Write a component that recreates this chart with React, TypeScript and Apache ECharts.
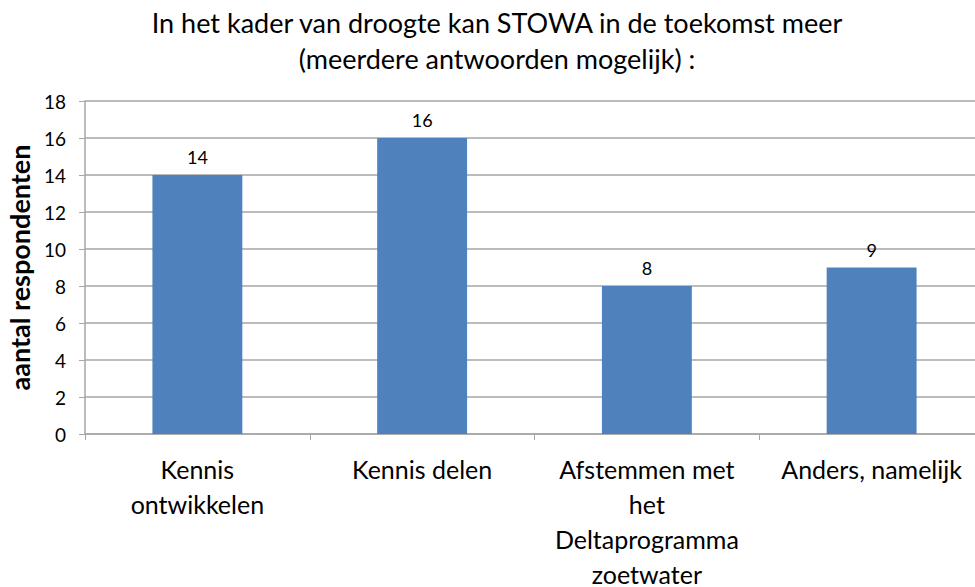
import React, { useEffect, useRef } from "react";
import * as echarts from "echarts";

const categories = [
  "Kennis\nontwikkelen",
  "Kennis delen",
  "Afstemmen met\nhet\nDeltaprogramma\nzoetwater",
  "Anders, namelijk",
];
const values = [14, 16, 8, 9];
const yTicks = { min: 0, max: 18, interval: 2 };
const titleText = "In het kader van droogte kan STOWA in de toekomst meer\n(meerdere antwoorden mogelijk) :";
const yAxisName = "aantal respondenten";

const FONT = "Lato, 'Open Sans', sans-serif";

export default function App() {
  const ref = useRef<HTMLDivElement>(null);
  useEffect(() => {
    if (!ref.current) return;
    const chart = echarts.init(ref.current, null, { renderer: "svg" });
    chart.setOption({
      animation: false,
      backgroundColor: "#ffffff",
      title: {
        text: titleText,
        left: 497,
        textAlign: "center",
        top: 4,
        padding: 0,
        textStyle: {
          fontFamily: FONT,
          fontSize: 27,
          fontWeight: "normal",
          color: "#000",
          lineHeight: 36,
        },
      },
      grid: {
        left: 85,
        top: 101,
        width: 899,
        height: 333,
        outerBoundsMode: "none",
        containLabel: false,
      },
      xAxis: {
        type: "category",
        data: categories,
        axisLine: { lineStyle: { color: "#a6a6a6", width: 1.5 } },
        axisTick: { show: true, length: 6, lineStyle: { color: "#a6a6a6" } },
        axisLabel: {
          fontFamily: FONT,
          fontSize: 25,
          color: "#000",
          lineHeight: 35,
          margin: 17,
          interval: 0,
        },
      },
      yAxis: {
        type: "value",
        min: yTicks.min,
        max: yTicks.max,
        interval: yTicks.interval,
        name: yAxisName,
        nameLocation: "middle",
        nameGap: 52,
        nameTextStyle: {
          fontFamily: FONT,
          fontSize: 27,
          fontWeight: "bold",
          color: "#000",
        },
        axisLine: { show: true, lineStyle: { color: "#a6a6a6", width: 1.5 } },
        axisTick: { show: true, length: 6, lineStyle: { color: "#a6a6a6" } },
        splitLine: { lineStyle: { color: "#a6a6a6", width: 1.5 } },
        axisLabel: {
          fontFamily: FONT,
          fontSize: 19,
          color: "#000",
          margin: 19,
        },
      },
      series: [
        {
          type: "bar",
          data: values,
          barCategoryGap: "60%",
          itemStyle: { color: "#4f81bd" },
          label: {
            show: true,
            position: "top",
            distance: 9,
            fontFamily: FONT,
            fontSize: 18,
            color: "#000",
          },
        },
      ],
    });
    return () => chart.dispose();
  }, []);
  return (
    <div
      ref={ref}
      style={{ position: "fixed", left: 0, top: 0, width: 975, height: 587 }}
    />
  );
}
